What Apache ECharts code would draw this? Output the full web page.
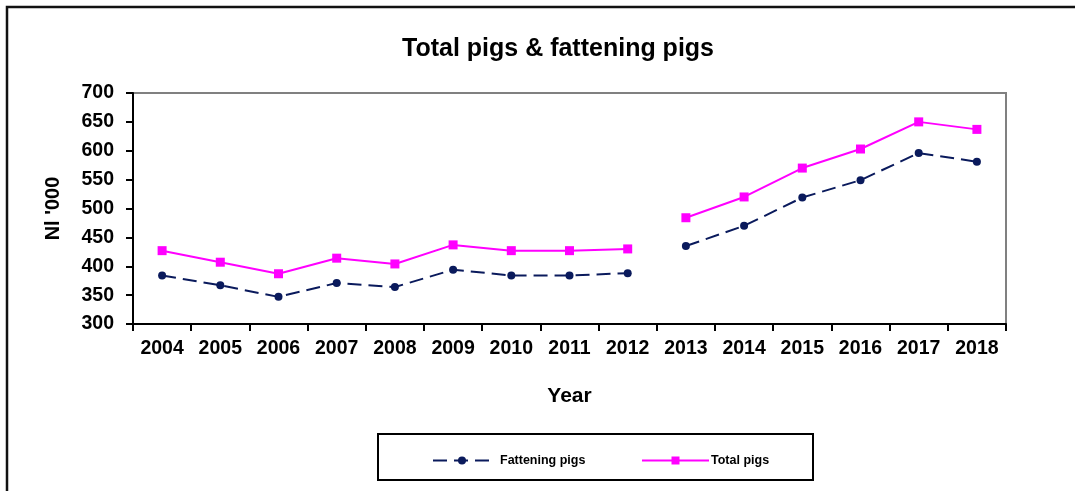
<!DOCTYPE html>
<html>
<head>
<meta charset="utf-8">
<script src="https://cdn.jsdelivr.net/npm/echarts@6/dist/echarts.min.js"></script>
<style>
  html, body { margin: 0; padding: 0; background: #fff; }
  #chart { width: 1075px; height: 491px; }
</style>
</head>
<body>
<div id="chart"></div>
<script>
// Pig numbers in thousands, 2004-2018
const years = ['2004', '2005', '2006', '2007', '2008', '2009', '2010', '2011', '2012',
               '2013', '2014', '2015', '2016', '2017', '2018'];
const fatteningPigs = [384, 367, 347, 371, 364, 394, 384, 384, 388, 435, 470, 519, 549, 596, 581];
const totalPigs = [427, 407, 387, 414, 404, 437, 427, 427, 430, 484, 520, 570, 603, 650, 637];
const yTicks = { min: 300, max: 700, step: 50 };
// The series is interrupted between these two years
const breakAfter = years.indexOf('2012');

const FONT = '"Liberation Sans", Arial, sans-serif';

function segment(values, first) {
  return values.map((v, i) => (first ? (i <= breakAfter ? v : '-') : (i > breakAfter ? v : '-')));
}

const fattenStyle = {
  type: 'line',
  name: 'Fattening pigs',
  symbol: 'circle',
  symbolSize: 8,
  itemStyle: { color: '#0a1a5c' },
  lineStyle: { color: '#0a1a5c', width: 2, type: [14, 7] },
  z: 3
};
const totalStyle = {
  type: 'line',
  name: 'Total pigs',
  symbol: 'rect',
  symbolSize: 9,
  itemStyle: { color: '#ff00ff' },
  lineStyle: { color: '#ff00ff', width: 2 },
  z: 4
};

const chart = echarts.init(document.getElementById('chart'));
chart.setOption({
  animation: false,
  backgroundColor: '#fff',
  textStyle: { fontFamily: FONT },
  title: {
    text: 'Total pigs & fattening pigs',
    left: 553,
    top: 32,
    textAlign: 'center',
    textStyle: { fontFamily: FONT, fontWeight: 'bold', fontSize: 25, color: '#000' }
  },
  graphic: [
    {
      type: 'rect',
      shape: { x: 7, y: 7, width: 1200, height: 700 },
      style: { fill: null, stroke: '#111', lineWidth: 2.5 },
      silent: true
    },
    {
      type: 'rect',
      shape: { x: 378, y: 434, width: 435, height: 46 },
      style: { fill: '#fff', stroke: '#000', lineWidth: 2 },
      silent: true,
      z: -1
    }
  ],
  legend: [
    {
      data: ['Fattening pigs'],
      left: 427,
      top: 449,
      itemWidth: 58,
      itemHeight: 10,
      textStyle: { fontFamily: FONT, fontWeight: 'bold', fontSize: 12.5, color: '#000', padding: [0, 0, 0, 4] }
    },
    {
      data: ['Total pigs'],
      left: 636,
      top: 449,
      itemWidth: 67,
      itemHeight: 10,
      textStyle: { fontFamily: FONT, fontWeight: 'bold', fontSize: 12.5, color: '#000', padding: [0, 0, 0, -3] }
    }
  ],
  grid: {
    left: 133,
    top: 93,
    right: 69,
    bottom: 167,
    show: true,
    borderColor: '#808080',
    borderWidth: 2,
    containLabel: false
  },
  xAxis: {
    type: 'category',
    data: years,
    boundaryGap: true,
    name: 'Year',
    nameLocation: 'middle',
    nameGap: 62,
    nameTextStyle: { fontFamily: FONT, fontWeight: 'bold', fontSize: 21, color: '#000' },
    axisLine: { lineStyle: { color: '#000', width: 2 } },
    axisTick: { show: true, interval: 0, length: 7, lineStyle: { color: '#000', width: 2 } },
    axisLabel: { interval: 0, margin: 15, fontFamily: FONT, fontWeight: 'bold', fontSize: 19.5, color: '#000' },
    splitLine: { show: false }
  },
  yAxis: {
    type: 'value',
    min: yTicks.min,
    max: yTicks.max,
    interval: yTicks.step,
    name: "Nl '000",
    nameLocation: 'middle',
    nameRotate: 90,
    nameGap: 70,
    nameTextStyle: { fontFamily: FONT, fontWeight: 'bold', fontSize: 20, color: '#000' },
    axisLine: { show: true, lineStyle: { color: '#000', width: 2 } },
    axisTick: { show: true, length: 7, lineStyle: { color: '#000', width: 2 } },
    axisLabel: { margin: 19, fontFamily: FONT, fontWeight: 'bold', fontSize: 19.5, color: '#000' },
    splitLine: { show: false }
  },
  series: [
    Object.assign({}, fattenStyle, { data: segment(fatteningPigs, true) }),
    Object.assign({}, fattenStyle, { data: segment(fatteningPigs, false) }),
    Object.assign({}, totalStyle, { data: segment(totalPigs, true) }),
    Object.assign({}, totalStyle, { data: segment(totalPigs, false) })
  ]
});
</script>
</body>
</html>
